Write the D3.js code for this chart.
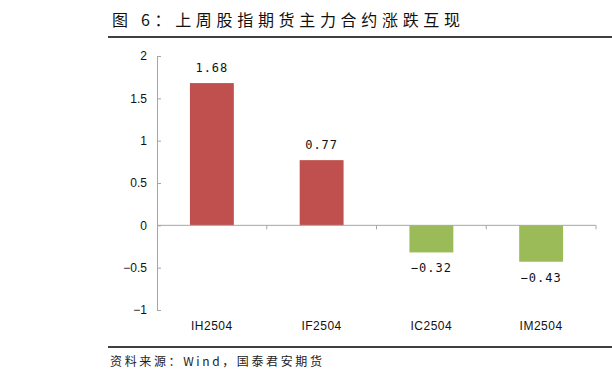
<!DOCTYPE html>
<html lang="zh">
<head>
  <meta charset="UTF-8">
  <title>上周股指期货主力合约涨跌互现</title>
  <style>
    *{ margin:0; padding:0; }
    body{ background:#fff; }
  </style>
  <script src="https://cdn.jsdelivr.net/npm/d3@7/dist/d3.min.js"></script>
</head>
<body>
  <svg id="mainsvg"></svg>
  <script>
    // 数据
    const categories = ['IH2504', 'IF2504', 'IC2504', 'IM2504']
    const changes = [1.68, 0.77, -0.32, -0.43]
    const yTicks = [-1, -0.5, 0, 0.5, 1, 1.5, 2]

    const width = 612, height = 384
    const svg = d3.select('#mainsvg').attr('width', width).attr('height', height)
    const cjk = '"Noto Sans CJK SC", "Noto Sans", sans-serif'

    // 标题 + 横线
    svg.append('text')
      .attr('x', 112).attr('y', 26)
      .attr('font-family', cjk).attr('font-size', 16).attr('fill', '#111')
      .attr('textLength', 348).attr('lengthAdjust', 'spacing')
      .text('图 6：上周股指期货主力合约涨跌互现')
    svg.append('line').attr('x1', 108).attr('x2', 612).attr('y1', 37).attr('y2', 37)
      .attr('stroke', '#000').attr('stroke-width', 1.5)

    // 底部来源
    svg.append('line').attr('x1', 108).attr('x2', 612).attr('y1', 347).attr('y2', 347)
      .attr('stroke', '#000').attr('stroke-width', 1.5)
    svg.append('text')
      .attr('x', 110).attr('y', 366)
      .attr('font-family', cjk).attr('font-size', 12).attr('fill', '#222')
      .attr('textLength', 212).attr('lengthAdjust', 'spacing')
      .text('资料来源：Wind，国泰君安期货')

    const x = d3.scaleBand().domain(categories).range([157, 596])
      .paddingInner(0.6).paddingOuter(0.3)
    const y = d3.scaleLinear().domain([-1, 2]).range([310, 56])

    const axisColor = '#a6a6a6'

    // y 轴
    const gy = svg.append('g').attr('transform', `translate(157,0)`)
      .call(d3.axisRight(y).tickValues(yTicks).tickSize(4).tickFormat(d => d3.format('')(d).replace('-', '−')))
    gy.select('.domain').attr('stroke', axisColor)
    gy.selectAll('.tick line').attr('stroke', axisColor)
    gy.selectAll('.tick text')
      .attr('x', -10).attr('text-anchor', 'end')
      .attr('font-family', '"Liberation Sans", Arial, sans-serif').attr('font-size', 12).attr('fill', '#111')

    // 柱子
    svg.selectAll('rect.bar').data(changes).join('rect')
      .attr('class', 'bar')
      .attr('x', (d, i) => x(categories[i]))
      .attr('width', x.bandwidth())
      .attr('y', d => y(Math.max(0, d)))
      .attr('height', d => Math.abs(y(d) - y(0)))
      .attr('fill', d => d >= 0 ? '#c0504d' : '#9bbb59')

    // x 轴（零线）
    const step = x.step()
    const bounds = d3.range(1, categories.length + 1).map(i => 157 + step * i)
    svg.append('line').attr('x1', 157).attr('x2', 596).attr('y1', y(0)).attr('y2', y(0))
      .attr('stroke', axisColor)
    svg.selectAll('line.xtick').data(bounds).join('line')
      .attr('class', 'xtick')
      .attr('x1', d => d).attr('x2', d => d)
      .attr('y1', y(0)).attr('y2', y(0) + 4)
      .attr('stroke', axisColor)

    // 类别标签
    svg.selectAll('text.cat').data(categories).join('text')
      .attr('class', 'cat')
      .attr('x', d => x(d) + x.bandwidth() / 2)
      .attr('y', 330)
      .attr('text-anchor', 'middle')
      .attr('font-family', '"Liberation Sans", Arial, sans-serif').attr('font-size', 12)
      .attr('letter-spacing', 0.5).attr('fill', '#111')
      .text(d => d)

    // 数值标签
    svg.selectAll('text.val').data(changes).join('text')
      .attr('class', 'val')
      .attr('x', (d, i) => x(categories[i]) + x.bandwidth() / 2)
      .attr('y', d => d >= 0 ? y(d) - 11 : y(d) + 20)
      .attr('text-anchor', 'middle')
      .attr('font-family', '"DejaVu Sans Mono", monospace').attr('font-size', 12)
      .attr('letter-spacing', 1).attr('fill', '#111')
      .text(d => d3.format('.2f')(d).replace('-', '−'))
  </script>
</body>
</html>
